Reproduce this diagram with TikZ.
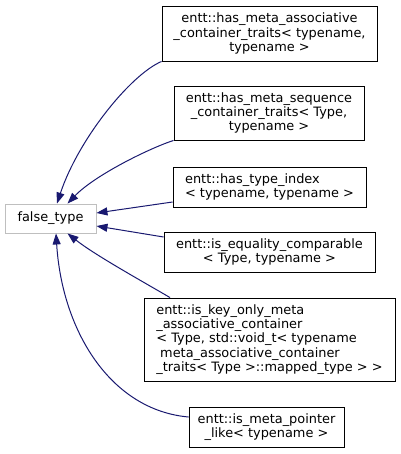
\documentclass[tikz,border=0pt]{standalone}
\usepackage{fontspec}
\setmainfont{DejaVu Sans}
\usetikzlibrary{arrows.meta}
\definecolor{edgeblue}{RGB}{25,25,112}
\definecolor{basegray}{RGB}{191,191,191}
\begin{document}
\begin{tikzpicture}[x=1pt,y=-1pt,every node/.style={font=\fontsize{12.9}{14.2}\selectfont,inner sep=0pt},
  cls/.style={draw=black,line width=0.9pt,fill=white,align=center},
  inh/.style={edgeblue,line width=1pt,-{Triangle[length=11pt,width=8pt]}}]
  \useasboundingbox (0,0) rectangle (400,454);
  \node[draw=basegray,line width=0.9pt,minimum width=91pt,minimum height=29pt] (falsetype) at (50.5,218.5) {false\_type};
  \node[cls,minimum width=215pt,minimum height=55pt] (assoc) at (269.5,33.5) {entt::has\_meta\_associative\\\_container\_traits< typename,\\typename >};
  \node[cls,minimum width=190pt,minimum height=54pt] (seq) at (269,113) {entt::has\_meta\_sequence\\\_container\_traits< Type,\\typename >};
  \node[cls,align=left,minimum width=193pt,minimum height=40pt] (typeidx) at (269.5,187) {entt::has\_type\_index\\< typename, typename >};
  \node[cls,minimum width=211pt,minimum height=40pt] (eqcomp) at (269.5,252) {entt::is\_equality\_comparable\\< Type, typename >};
  \node[cls,align=left,minimum width=251pt,minimum height=83pt] (keyonly) at (269.5,339.5) {entt::is\_key\_only\_meta\\\_associative\_container\\< Type, std::void\_t< typename\\\hspace*{0.3em}meta\_associative\_container\\\_traits< Type >::mapped\_type > >};
  \node[cls,minimum width=155pt,minimum height=40pt] (ptrlike) at (266.5,427) {entt::is\_meta\_pointer\\\_like< typename >};
  % inheritance edges
  \draw[inh] (assoc.south west) .. controls (130,75) and (78,140) .. ([xshift=6.5pt]falsetype.north);
  \draw[inh] (seq.south west) .. controls (150,148) and (95,175) .. ([xshift=17pt]falsetype.north);
  \draw[inh] ([yshift=-15pt]typeidx.west) -- ([yshift=5.5pt]falsetype.east);
  \draw[inh] ([yshift=15pt]eqcomp.west) -- ([yshift=-7.5pt]falsetype.east);
  \draw[inh] ([xshift=-99.5pt]keyonly.north) .. controls (140,280) and (95,255) .. ([xshift=17pt]falsetype.south);
  \draw[inh] ([yshift=10pt]ptrlike.west) .. controls (110,410) and (62,330) .. ([xshift=5.5pt]falsetype.south);
\end{tikzpicture}
\end{document}
